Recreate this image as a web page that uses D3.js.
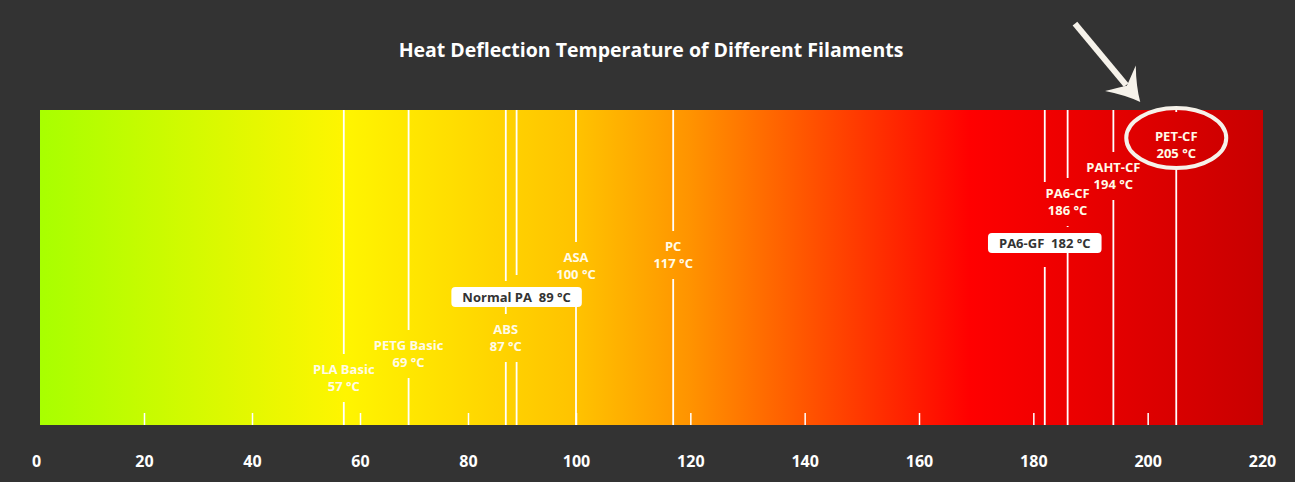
<!DOCTYPE html>
<html>
<head>
<meta charset="utf-8">
<script src="https://cdn.jsdelivr.net/npm/d3@7"></script>
<style>
  html, body { margin: 0; padding: 0; background: #333333; }
  svg { display: block; }
</style>
</head>
<body>
<div id="chart"></div>
<script>
// filament heat deflection temperatures (°C)
const filaments = ['PLA Basic', 'PETG Basic', 'ABS', 'Normal PA', 'ASA', 'PC', 'PA6-GF', 'PA6-CF', 'PAHT-CF', 'PET-CF'];
const temps = [57, 69, 87, 89, 100, 117, 182, 186, 194, 205];
const boxed = ['Normal PA', 'PA6-GF'];
const highlighted = ['PET-CF'];
const tickValues = [0, 20, 40, 60, 80, 100, 120, 140, 160, 180, 200, 220];

const width = 1295, height = 482;
const band = { left: 40, right: 1263, top: 110, bottom: 425 };

// label centre heights, hand placed so the labels don't collide
const labelY = {
  'PLA Basic': 378, 'PETG Basic': 354, 'ABS': 338, 'Normal PA': 297, 'ASA': 266,
  'PC': 255, 'PA6-GF': 243, 'PA6-CF': 202, 'PAHT-CF': 176, 'PET-CF': 145
};

const data = filaments.map((name, i) => ({
  name: name,
  temp: temps[i],
  boxed: boxed.includes(name),
  highlight: highlighted.includes(name),
  y: labelY[name]
}));

// the source graphic is slightly stretched on the right half
const x = d3.scaleLinear()
  .domain([0, 100, 220])
  .range([36, 576, 1262]);

const svg = d3.select('#chart').append('svg')
  .attr('width', width)
  .attr('height', height);

svg.append('rect')
  .attr('width', width).attr('height', height)
  .attr('fill', '#333333');

svg.append('text')
  .attr('x', 651)
  .attr('y', 57)
  .attr('text-anchor', 'middle')
  .attr('font-family', 'Open Sans')
  .attr('font-weight', 700)
  .attr('font-size', '19.5px')
  .attr('fill', '#ffffff')
  .text('Heat Deflection Temperature of Different Filaments');

const grad = svg.append('defs').append('linearGradient')
  .attr('id', 'heat')
  .attr('x1', '0%').attr('x2', '100%')
  .attr('y1', '0%').attr('y2', '0%');

[
  [0, '#a8ff00'],
  [0.25, '#fff500'],
  [0.44, '#ffc200'],
  [0.53, '#ff9400'],
  [0.64, '#ff4c00'],
  [0.76, '#ff0000'],
  [1, '#c80000']
].forEach(s => grad.append('stop').attr('offset', s[0]).attr('stop-color', s[1]));

svg.append('rect')
  .attr('x', band.left)
  .attr('y', band.top)
  .attr('width', band.right - band.left)
  .attr('height', band.bottom - band.top)
  .attr('fill', 'url(#heat)');

// small ticks inside the band
svg.append('g')
  .attr('transform', `translate(0, ${band.bottom})`)
  .call(d3.axisTop(x).tickValues(tickValues.filter(t => t > 0 && t < 220)).tickSize(12).tickFormat(''))
  .call(g => g.select('.domain').remove())
  .call(g => g.selectAll('line').attr('stroke', '#ffffff').attr('stroke-width', 1.5));

// tick labels below
svg.append('g')
  .attr('transform', `translate(0, ${band.bottom})`)
  .call(d3.axisBottom(x).tickValues(tickValues).tickSize(0).tickPadding(31))
  .call(g => g.select('.domain').remove())
  .call(g => g.selectAll('text')
    .attr('font-family', 'Open Sans')
    .attr('font-weight', 700)
    .attr('font-size', '16px')
    .attr('fill', '#ffffff'));

const fontSize = 13;
const textGap = 24;
const boxH = 20;
const ellipse = { rx: 50, ry: 30, dy: -7 };

function boxText(d) {
  return `${d.name}  ${d.temp} \u00b0C`;
}

// measure label widths first so lines can be cut around them
const measure = svg.append('text')
  .attr('font-family', 'Open Sans')
  .attr('font-weight', 700)
  .attr('font-size', fontSize + 'px')
  .style('white-space', 'pre');
data.forEach(d => {
  if (d.boxed) {
    measure.text(boxText(d));
    d.w = measure.node().getComputedTextLength() + 22;
  } else {
    measure.text(d.name);
    const w1 = measure.node().getComputedTextLength();
    measure.text(`${d.temp} \u00b0C`);
    const w2 = measure.node().getComputedTextLength();
    d.w = Math.max(w1, w2) + 4;
  }
});
measure.remove();

function gapsFor(d) {
  const gaps = [];
  const cx = x(d.temp);
  if (d.highlight) {
    gaps.push([d.y + ellipse.dy - ellipse.ry + 4, d.y + ellipse.dy + ellipse.ry]);
  } else if (d.boxed) {
    gaps.push([d.y - boxH / 2 - 12, d.y + boxH / 2 + 14]);
  } else {
    gaps.push([d.y - textGap, d.y + textGap]);
  }
  data.filter(o => o !== d).forEach(o => {
    const ox = x(o.temp);
    if (Math.abs(cx - ox) < o.w / 2) {
      if (o.boxed) gaps.push([o.y - boxH / 2 - 6, o.y + boxH / 2]);
      else gaps.push([o.y - textGap + 4, o.y + textGap]);
    }
  });
  gaps.sort((a, b) => a[0] - b[0]);
  return gaps;
}

function segments(d) {
  const segs = [];
  let start = band.top;
  gapsFor(d).forEach(g => {
    if (g[0] > start) segs.push([start, g[0]]);
    start = Math.max(start, g[1]);
  });
  if (start < band.bottom) segs.push([start, band.bottom]);
  return segs;
}

const marks = svg.append('g');

data.forEach(d => {
  const cx = x(d.temp);
  marks.selectAll(null)
    .data(segments(d))
    .enter().append('line')
    .attr('x1', cx).attr('x2', cx)
    .attr('y1', s => s[0]).attr('y2', s => s[1])
    .attr('stroke', '#ffffff')
    .attr('stroke-width', 1.8);
});

const labels = svg.append('g')
  .attr('font-family', 'Open Sans')
  .attr('font-weight', 700)
  .attr('font-size', fontSize + 'px')
  .attr('text-anchor', 'middle');

data.filter(d => !d.boxed).forEach(d => {
  const cx = x(d.temp);
  const t = labels.append('text')
    .attr('fill', '#fffbe8');
  t.append('tspan')
    .attr('x', cx).attr('y', d.y - 4.5)
    .text(d.name);
  t.append('tspan')
    .attr('x', cx).attr('y', d.y + 13)
    .text(`${d.temp} \u00b0C`);
});

data.filter(d => d.boxed).forEach(d => {
  const cx = x(d.temp);
  labels.append('rect')
    .attr('x', cx - d.w / 2)
    .attr('y', d.y - boxH / 2)
    .attr('width', d.w)
    .attr('height', boxH)
    .attr('rx', 4)
    .attr('fill', '#ffffff');
  labels.append('text')
    .attr('x', cx)
    .attr('y', d.y + 4.5)
    .attr('fill', '#333333')
    .style('white-space', 'pre')
    .text(boxText(d));
});

// highlight ring and arrow
data.filter(d => d.highlight).forEach(d => {
  const cx = x(d.temp);
  const cy = d.y + ellipse.dy;
  svg.append('ellipse')
    .attr('cx', cx).attr('cy', cy)
    .attr('rx', ellipse.rx).attr('ry', ellipse.ry)
    .attr('fill', 'none')
    .attr('stroke', '#f6f2ea')
    .attr('stroke-width', 4);

  const arrow = svg.append('g')
    .attr('transform', `translate(${cx - 36}, ${cy - 36}) rotate(50.2)`)
    .attr('fill', '#f6f2ea');
  arrow.append('line')
    .attr('x1', -102).attr('y1', 0)
    .attr('x2', -22).attr('y2', 0)
    .attr('stroke', '#f6f2ea')
    .attr('stroke-width', 6);
  arrow.append('path')
    .attr('d', 'M0,0 Q-15,-7 -31,-20 Q-25,-8 -21,0 Q-25,8 -31,20 Q-15,7 0,0 Z');
});
</script>
</body>
</html>
